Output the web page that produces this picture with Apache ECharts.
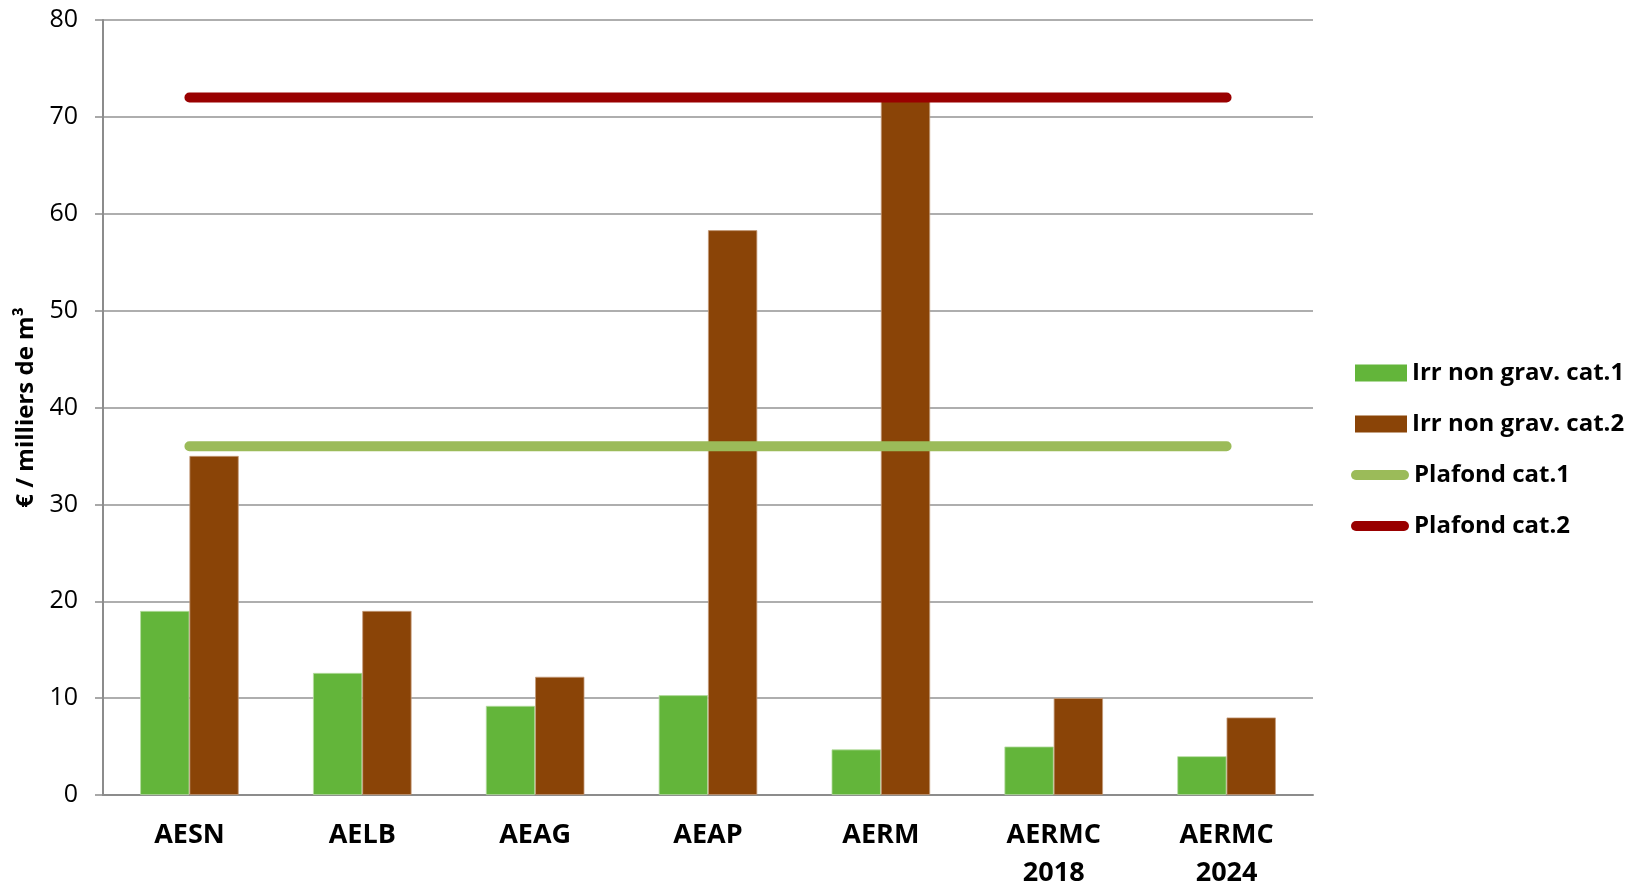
<!DOCTYPE html>
<html>
<head>
<meta charset="utf-8">
<style>
  html, body { margin: 0; padding: 0; background: #fff; }
  #chart { width: 1634px; height: 887px; }
</style>
<script src="https://cdn.jsdelivr.net/npm/echarts@6/dist/echarts.min.js"></script>
</head>
<body>
<div id="chart"></div>
<script>
// agences de l'eau
const categories = ['AESN', 'AELB', 'AEAG', 'AEAP', 'AERM', 'AERMC\n2018', 'AERMC\n2024']
const cat1 = [19, 12.6, 9.2, 10.3, 4.7, 5, 4]
const cat2 = [35, 19, 12.2, 58.3, 72, 10, 8]
const plafond1 = [36, 36, 36, 36, 36, 36, 36]
const plafond2 = [72, 72, 72, 72, 72, 72, 72]
const yTicks = [0, 80, 10]

const font = 'Open Sans'
// pill shape for the threshold lines in the legend
const pill = 'path://M5,0 L53,0 A5,5 0 0 1 53,10 L5,10 A5,5 0 0 1 5,0 Z'
const legendText = { fontFamily: font, fontSize: 24, fontWeight: 'bold', color: '#000', lineHeight: 30 }

const myChart = echarts.init(document.getElementById('chart'))
const option = {
  animation: false,
  grid: {
    left: 103,
    right: 321,
    top: 20,
    bottom: 92,
    containLabel: false,
    outerBoundsMode: 'none'
  },
  legend: [
    {
      orient: 'vertical',
      left: 1355,
      top: 358,
      padding: 0,
      itemWidth: 52,
      itemHeight: 17,
      itemGap: 21,
      icon: 'rect',
      itemStyle: { borderWidth: 0 },
      data: ['Irr non grav. cat.1', 'Irr non grav. cat.2'],
      textStyle: legendText
    },
    {
      orient: 'vertical',
      left: 1351,
      top: 460,
      padding: 0,
      itemWidth: 58,
      itemHeight: 10,
      itemGap: 21,
      icon: pill,
      data: ['Plafond cat.1', 'Plafond cat.2'],
      textStyle: legendText
    }
  ],
  xAxis: {
    type: 'category',
    data: categories,
    axisLine: { lineStyle: { color: '#8c8c8c', width: 2 } },
    axisTick: { show: false },
    axisLabel: {
      fontFamily: font,
      fontSize: 27,
      fontWeight: 'bold',
      color: '#000',
      margin: 21,
      lineHeight: 38
    }
  },
  yAxis: {
    type: 'value',
    min: yTicks[0],
    max: yTicks[1],
    interval: yTicks[2],
    name: '€ / milliers de m³',
    nameLocation: 'middle',
    nameGap: 64,
    nameTextStyle: { fontFamily: font, fontSize: 24, fontWeight: 'bold', color: '#000' },
    axisLine: { show: true, lineStyle: { color: '#8c8c8c', width: 2 } },
    axisTick: { show: true, length: 8, lineStyle: { color: '#8c8c8c', width: 1.5 } },
    axisLabel: { fontFamily: font, fontSize: 25, color: '#000', margin: 25 },
    splitLine: { lineStyle: { color: '#939393', width: 1.5 } }
  },
  series: [
    {
      name: 'Irr non grav. cat.1',
      type: 'bar',
      data: cat1,
      barWidth: '28.5%',
      barGap: 0,
      itemStyle: { color: '#63B53A', borderColor: '#b5dca0', borderWidth: 0.8 }
    },
    {
      name: 'Irr non grav. cat.2',
      type: 'bar',
      data: cat2,
      barWidth: '28.5%',
      barGap: 0,
      itemStyle: { color: '#8A4407', borderColor: '#c49a7a', borderWidth: 0.8 }
    },
    {
      name: 'Plafond cat.1',
      type: 'line',
      data: plafond1,
      symbol: 'none',
      z: 5,
      color: '#9BBB59',
      lineStyle: { color: '#9BBB59', width: 10, cap: 'round' }
    },
    {
      name: 'Plafond cat.2',
      type: 'line',
      data: plafond2,
      symbol: 'none',
      z: 5,
      color: '#990000',
      lineStyle: { color: '#990000', width: 10, cap: 'round' }
    }
  ]
}
myChart.setOption(option)
</script>
</body>
</html>
